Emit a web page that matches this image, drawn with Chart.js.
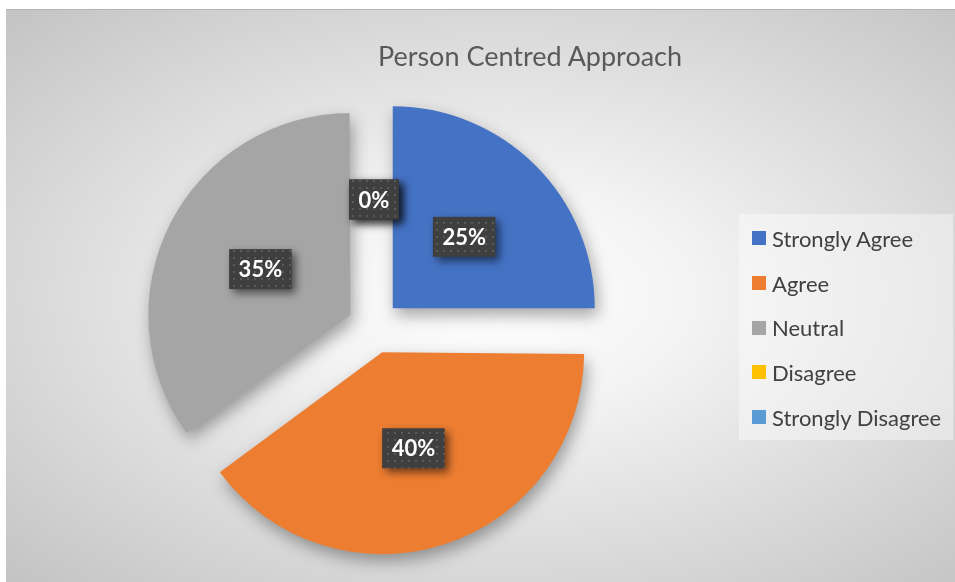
<!DOCTYPE html>
<html>
<head>
<meta charset="utf-8">
<script src="https://cdn.jsdelivr.net/npm/chart.js@4.4.1/dist/chart.umd.min.js"></script>
<style>
  html, body { margin: 0; padding: 0; background: #fff; }
  #frame {
    position: absolute; left: 6px; top: 9px; width: 949px; height: 573px;
    background: radial-gradient(ellipse farthest-corner at 52% 50%, #ffffff 0%, #f3f3f3 28%, #c3c3c3 100%);
    box-shadow: inset 0 1px 0 #b4b4b4;
    font-family: Lato, "Open Sans", sans-serif;
    overflow: hidden;
  }
  #title {
    position: absolute; left: 524px; top: 31px; transform: translateX(-50%);
    font-size: 27px; line-height: 32px; color: #595959; white-space: nowrap;
  }
  #chart { position: absolute; left: 0; top: 0; }
  #legend {
    position: absolute; left: 733px; top: 205px; width: 214px; height: 226px;
    background: rgba(255,255,255,0.4); padding-top: 2px; box-sizing: border-box;
  }
  .item { display: flex; align-items: center; height: 44.7px; padding-left: 13px; font-size: 22px; color: #404040; }
  .sw { width: 14px; height: 14px; margin-right: 6px; flex: none; }
</style>
</head>
<body>
<div id="frame">
  <canvas id="chart" width="949" height="573"></canvas>
  <div id="title">Person Centred Approach</div>
  <div id="legend"></div>
</div>
<script>
const categories = ["Strongly Agree", "Agree", "Neutral", "Disagree", "Strongly Disagree"];
const values = [25, 40, 35, 0, 0];
const colors = ["#4472c4", "#ed7d31", "#a5a5a5", "#ffc000", "#5b9bd5"];

const RADIUS = 202;
const EXPLODE = 26.5; // visible gap each slice is pulled out by, px
const total = values.reduce((a, b) => a + b, 0);

// Chart.js shifts an arc by offset/4 and also grows its radius by
// offset/4 * (1 - sin(circumference)); undo that so every slice is pulled
// out by the same amount and keeps the same radius
function arcFix(v) {
  const circ = v / total * Math.PI * 2;
  return 1 - Math.sin(Math.min(Math.PI, circ));
}
const offsets = values.map(() => EXPLODE * 4);

const legendEl = document.getElementById("legend");
categories.forEach((name, i) => {
  const row = document.createElement("div");
  row.className = "item";
  const sw = document.createElement("span");
  sw.className = "sw";
  sw.style.background = colors[i];
  row.appendChild(sw);
  row.appendChild(document.createTextNode(name));
  legendEl.appendChild(row);
});

// dark dotted fill used behind the data labels
function makePattern(ctx) {
  const pc = document.createElement("canvas");
  pc.width = 7; pc.height = 7;
  const p = pc.getContext("2d");
  p.fillStyle = "#3f3f3f";
  p.fillRect(0, 0, 7, 7);
  p.fillStyle = "#5a5a5a";
  p.fillRect(3, 3, 2, 2);
  return ctx.createPattern(pc, "repeat");
}

const evenExplode = {
  id: "evenExplode",
  afterDatasetUpdate(chart, args) {
    args.meta.data.forEach((arc, i) => {
      arc.outerRadius = RADIUS - EXPLODE * arcFix(values[i]);
    });
  }
};

const sliceShadow = {
  id: "sliceShadow",
  beforeDatasetDraw(chart) {
    const ctx = chart.ctx;
    ctx.save();
    ctx.shadowColor = "rgba(0,0,0,0.35)";
    ctx.shadowBlur = 16;
    ctx.shadowOffsetX = 3;
    ctx.shadowOffsetY = 7;
  },
  afterDatasetDraw(chart) {
    chart.ctx.restore();
  }
};

const pctLabels = {
  id: "pctLabels",
  afterDatasetsDraw(chart) {
    const ctx = chart.ctx;
    const meta = chart.getDatasetMeta(0);
    const pattern = makePattern(ctx);
    meta.data.forEach((arc, i) => {
      const p = arc.getProps(["x", "y", "startAngle", "endAngle"], true);
      const mid = (p.startAngle + p.endAngle) / 2;
      const dist = EXPLODE + RADIUS * 0.5;
      const x = p.x + Math.cos(mid) * dist;
      const y = p.y + Math.sin(mid) * dist;
      const text = Math.round(values[i] / total * 100) + "%";
      ctx.save();
      ctx.font = "bold 22px Lato, sans-serif";
      const w = ctx.measureText(text).width + 19;
      const h = 40;
      ctx.shadowColor = "rgba(0,0,0,0.55)";
      ctx.shadowBlur = 8;
      ctx.shadowOffsetX = 4;
      ctx.shadowOffsetY = 4;
      ctx.fillStyle = pattern;
      ctx.fillRect(x - w / 2, y - h / 2, w, h);
      ctx.shadowColor = "transparent";
      ctx.fillStyle = "#ffffff";
      ctx.textAlign = "center";
      ctx.textBaseline = "middle";
      ctx.fillText(text, x, y + 1);
      ctx.restore();
    });
  }
};

new Chart(document.getElementById("chart"), {
  type: "pie",
  data: {
    labels: categories,
    datasets: [{
      data: values,
      backgroundColor: colors,
      borderWidth: 0,
      offset: offsets,
      hoverOffset: 0,
      radius: RADIUS
    }]
  },
  options: {
    responsive: false,
    animation: false,
    layout: { padding: { left: 0, right: 213, top: 83, bottom: 20 } },
    plugins: {
      legend: { display: false },
      title: { display: false },
      tooltip: { enabled: false }
    }
  },
  plugins: [evenExplode, sliceShadow, pctLabels]
});
</script>
</body>
</html>
